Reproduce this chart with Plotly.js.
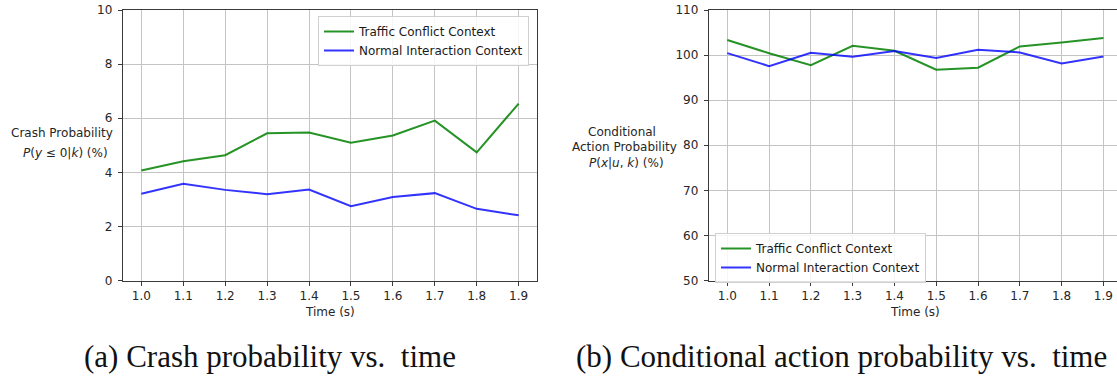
<!DOCTYPE html>
<html>
<head>
<meta charset="utf-8">
<script src="https://cdn.plot.ly/plotly-3.0.1.min.js"></script>
<style>
html, body { margin: 0; padding: 0; overflow: hidden; background: #fff; }
#chart { width: 1130px; height: 377px; }
</style>
</head>
<body>
<div id="chart"></div>
<script>
const times = [1.0, 1.1, 1.2, 1.3, 1.4, 1.5, 1.6, 1.7, 1.8, 1.9];
const timeTickLabels = ['1.0', '1.1', '1.2', '1.3', '1.4', '1.5', '1.6', '1.7', '1.8', '1.9'];
const seriesNames = ['Traffic Conflict Context', 'Normal Interaction Context'];
const crashConflict = [4.07, 4.41, 4.63, 5.44, 5.47, 5.09, 5.36, 5.91, 4.74, 6.54];
const crashNormal = [3.21, 3.58, 3.35, 3.19, 3.36, 2.75, 3.09, 3.23, 2.65, 2.41];
const actionConflict = [103.33, 100.4, 97.78, 102.07, 100.96, 96.74, 97.19, 101.93, 102.81, 103.78];
const actionNormal = [100.44, 97.56, 100.52, 99.63, 100.89, 99.33, 101.19, 100.59, 98.15, 99.70];
const crashTicks = [0, 2, 4, 6, 8, 10];
const actionTicks = [50, 60, 70, 80, 90, 100, 110];

const W = 1130, H = 377;
const px = v => v / W;
const py = v => 1 - v / H;

const green = 'rgba(0,128,0,0.85)';
const blue = 'rgba(0,0,255,0.8)';

const traces = [
  {x: times, y: crashConflict, name: seriesNames[0], type: 'scatter', mode: 'lines',
   line: {color: green, width: 2}, xaxis: 'x', yaxis: 'y', legend: 'legend'},
  {x: times, y: crashNormal, name: seriesNames[1], type: 'scatter', mode: 'lines',
   line: {color: blue, width: 2}, xaxis: 'x', yaxis: 'y', legend: 'legend'},
  {x: times, y: actionConflict, name: seriesNames[0], type: 'scatter', mode: 'lines',
   line: {color: green, width: 2}, xaxis: 'x2', yaxis: 'y2', legend: 'legend2'},
  {x: times, y: actionNormal, name: seriesNames[1], type: 'scatter', mode: 'lines',
   line: {color: blue, width: 2}, xaxis: 'x2', yaxis: 'y2', legend: 'legend2'}
];

const tickFont = {family: 'DejaVu Sans', size: 12, color: '#262626'};
const serif = '"Liberation Serif", "Times New Roman", "DejaVu Serif", serif';
const axCommon = {
  showline: true, linecolor: '#3a3a3a', linewidth: 1, mirror: true,
  showgrid: true, gridcolor: '#c4c4c4', gridwidth: 1,
  zeroline: false, ticks: 'outside', ticklen: 4, tickwidth: 1, tickcolor: '#3a3a3a',
  tickfont: tickFont, fixedrange: true
};
const yDomain = [1 - 280.5 / H, 1 - 10 / H];

const layout = {
  width: W, height: H, autosize: false,
  margin: {l: 0, r: 0, t: 0, b: 0, pad: 0},
  paper_bgcolor: '#fff', plot_bgcolor: '#fff',
  showlegend: true,
  xaxis: Object.assign({}, axCommon, {domain: [px(122.7), px(537.3)], range: [0.9555, 1.9445],
    tickvals: times, ticktext: timeTickLabels, anchor: 'y'}),
  yaxis: Object.assign({}, axCommon, {domain: yDomain, range: [0, 10], tickvals: crashTicks,
    anchor: 'x', ticklabelstandoff: 3}),
  xaxis2: Object.assign({}, axCommon, {domain: [px(708.7), px(1122)], range: [0.9555, 1.9445],
    tickvals: times, ticktext: timeTickLabels, anchor: 'y2'}),
  yaxis2: Object.assign({}, axCommon, {domain: yDomain, range: [50, 110], tickvals: actionTicks,
    anchor: 'x2', ticklabelstandoff: 3}),
  legend: {x: px(318), y: py(16), xanchor: 'left', yanchor: 'top',
    bgcolor: 'rgba(255,255,255,0.85)', bordercolor: '#d0d0d0', borderwidth: 1,
    font: {family: 'DejaVu Sans', size: 12, color: '#1a1a1a'}, traceorder: 'normal'},
  legend2: {x: px(715), y: py(233), xanchor: 'left', yanchor: 'top',
    bgcolor: 'rgba(255,255,255,0.85)', bordercolor: '#d0d0d0', borderwidth: 1,
    font: {family: 'DejaVu Sans', size: 12, color: '#1a1a1a'}, traceorder: 'normal'},
  annotations: [
    {xref: 'paper', yref: 'paper', x: px(62), y: py(133), xanchor: 'center', yanchor: 'middle',
     text: 'Crash Probability', showarrow: false, font: {family: 'DejaVu Sans', size: 12, color: '#262626'}},
    {xref: 'paper', yref: 'paper', x: px(65), y: py(153), xanchor: 'center', yanchor: 'middle',
     text: '<i>P</i>(<i>y</i> ≤ 0|<i>k</i>) (%)', showarrow: false, font: {family: 'DejaVu Sans', size: 12, color: '#262626'}},
    {xref: 'paper', yref: 'paper', x: px(622), y: py(131.7), xanchor: 'center', yanchor: 'middle',
     text: 'Conditional', showarrow: false, font: {family: 'DejaVu Sans', size: 12, color: '#262626'}},
    {xref: 'paper', yref: 'paper', x: px(624.5), y: py(146.7), xanchor: 'center', yanchor: 'middle',
     text: 'Action Probability', showarrow: false, font: {family: 'DejaVu Sans', size: 12, color: '#262626'}},
    {xref: 'paper', yref: 'paper', x: px(626), y: py(163.3), xanchor: 'center', yanchor: 'middle',
     text: '<i>P</i>(<i>x</i>|<i>u</i>, <i>k</i>) (%)', showarrow: false, font: {family: 'DejaVu Sans', size: 12, color: '#262626'}},
    {xref: 'paper', yref: 'paper', x: px(330), y: py(312), xanchor: 'center', yanchor: 'middle',
     text: 'Time (s)', showarrow: false, font: {family: 'DejaVu Sans', size: 12, color: '#262626'}},
    {xref: 'paper', yref: 'paper', x: px(915.4), y: py(312), xanchor: 'center', yanchor: 'middle',
     text: 'Time (s)', showarrow: false, font: {family: 'DejaVu Sans', size: 12, color: '#262626'}},
    {xref: 'paper', yref: 'paper', x: px(270), y: py(356), xanchor: 'center', yanchor: 'middle',
     text: '(a) Crash probability vs.  time', showarrow: false, font: {family: serif, size: 31, color: '#111'}},
    {xref: 'paper', yref: 'paper', x: px(841.5), y: py(356), xanchor: 'center', yanchor: 'middle',
     text: '(b) Conditional action probability vs.  time', showarrow: false, font: {family: serif, size: 31, color: '#111'}}
  ]
};

Plotly.newPlot('chart', traces, layout, {staticPlot: true, displayModeBar: false});
</script>
</body>
</html>
